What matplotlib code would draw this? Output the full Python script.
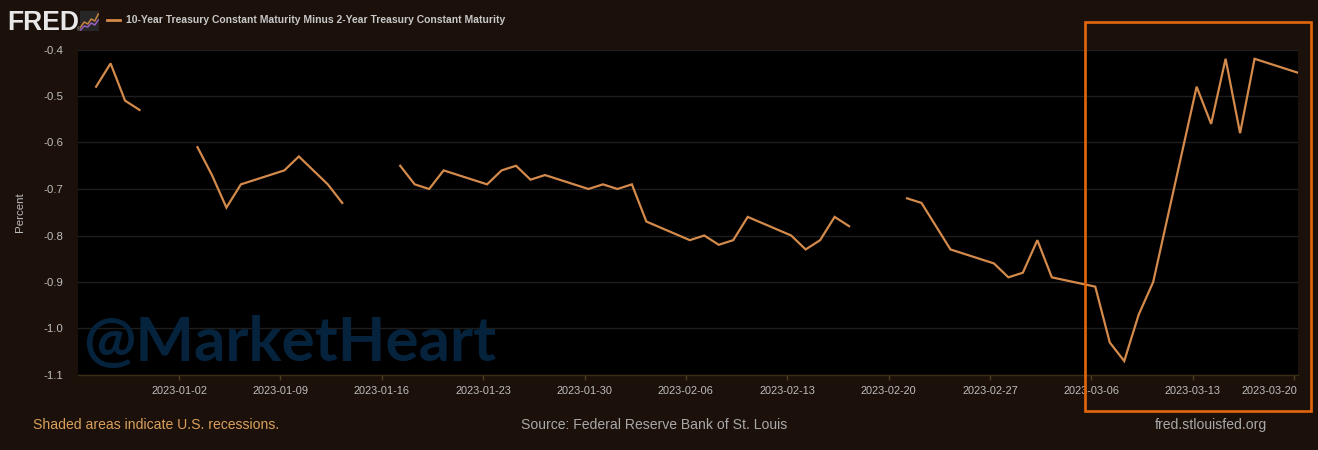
import matplotlib
matplotlib.use("Agg")
import matplotlib.pyplot as plt
import matplotlib.dates as mdates
import matplotlib.patches as patches
import matplotlib.transforms as mtransforms
import numpy as np
import pandas as pd

# ---------------- data ----------------
dates = [
    "2022-12-27", "2022-12-28", "2022-12-29", "2022-12-30", "2023-01-02",
    "2023-01-03", "2023-01-04", "2023-01-05", "2023-01-06",
    "2023-01-09", "2023-01-10", "2023-01-11", "2023-01-12", "2023-01-13",
    "2023-01-16", "2023-01-17", "2023-01-18", "2023-01-19", "2023-01-20",
    "2023-01-23", "2023-01-24", "2023-01-25", "2023-01-26", "2023-01-27",
    "2023-01-30", "2023-01-31", "2023-02-01", "2023-02-02", "2023-02-03",
    "2023-02-06", "2023-02-07", "2023-02-08", "2023-02-09", "2023-02-10",
    "2023-02-13", "2023-02-14", "2023-02-15", "2023-02-16", "2023-02-17",
    "2023-02-20", "2023-02-21", "2023-02-22", "2023-02-23", "2023-02-24",
    "2023-02-27", "2023-02-28", "2023-03-01", "2023-03-02", "2023-03-03",
    "2023-03-06", "2023-03-07", "2023-03-08", "2023-03-09", "2023-03-10",
    "2023-03-13", "2023-03-14", "2023-03-15", "2023-03-16", "2023-03-17",
    "2023-03-20",
]
spread = [
    -0.48, -0.43, -0.51, -0.53, None,
    -0.61, -0.67, -0.74, -0.69,
    -0.66, -0.63, -0.66, -0.69, -0.73,
    None, -0.65, -0.69, -0.70, -0.66,
    -0.69, -0.66, -0.65, -0.68, -0.67,
    -0.70, -0.69, -0.70, -0.69, -0.77,
    -0.81, -0.80, -0.82, -0.81, -0.76,
    -0.80, -0.83, -0.81, -0.76, -0.78,
    None, -0.72, -0.73, -0.78, -0.83,
    -0.86, -0.89, -0.88, -0.81, -0.89,
    -0.91, -1.03, -1.07, -0.97, -0.90,
    -0.48, -0.56, -0.42, -0.58, -0.42,
    -0.45,
]
tick_dates = ["2023-01-02", "2023-01-09", "2023-01-16", "2023-01-23", "2023-01-30",
              "2023-02-06", "2023-02-13", "2023-02-20", "2023-02-27", "2023-03-06",
              "2023-03-13", "2023-03-20"]
y_ticks = [-1.1, -1.0, -0.9, -0.8, -0.7, -0.6, -0.5, -0.4]
y_tick_labels = ["-1.1", "-1.0", "-0.9", "-0.8", "-0.7", "-0.6", "-0.5", "-0.4"]

series_name = "10-Year Treasury Constant Maturity Minus 2-Year Treasury Constant Maturity"

# small logo sparkline values (decorative)
logo_orange = [0.2, 0.45, 0.35, 0.6, 0.5, 0.85]
logo_purple = [0.05, 0.25, 0.2, 0.4, 0.3, 0.55]

# ---------------- style ----------------
W, H = 1318, 450
BG = "#1b100a"
LINE = "#d38a4b"
TXT = "#bdbdbd"
FONT = ["Liberation Sans", "DejaVu Sans"]
plt.rcParams["font.family"] = FONT

def px(v):
    return v * 0.72  # px -> pt at 100 dpi

fig = plt.figure(figsize=(W / 100, H / 100), dpi=100, facecolor=BG)

L, R, T, B = 78, 1298, 49.5, 375
ax = fig.add_axes([L / W, 1 - B / H, (R - L) / W, (B - T) / H])
ax.set_facecolor("#000000")

x = mdates.date2num(pd.to_datetime(dates))
y = np.array([np.nan if v is None else v for v in spread], dtype=float)

# gridlines
for v in y_ticks:
    ax.axhline(v, color="#1e1e1e", lw=1, zorder=1)

ax.plot(x, y, color=LINE, lw=1.6, zorder=3, solid_joinstyle="miter")

x0 = mdates.date2num(pd.Timestamp("2022-12-27")) - 1.25
x1 = mdates.date2num(pd.Timestamp("2023-03-20"))
ax.set_xlim(x0, x1)
ax.set_ylim(-1.1, -0.4)

tick_pos = mdates.date2num(pd.to_datetime(tick_dates)) - 0.27
ax.set_xticks(tick_pos)
ax.set_xticklabels(tick_dates)
ax.set_yticks(y_ticks)
ax.set_yticklabels(y_tick_labels)

ax.tick_params(axis="x", colors="#4d3e1e", length=px(5), width=1, pad=px(6),
               labelcolor=TXT, labelsize=px(11))
ax.tick_params(axis="y", length=0, pad=px(15), labelcolor=TXT, labelsize=px(11.5))
# last label kept inside the plot, as in the reference
last = ax.get_xticklabels()[-1]
last.set_horizontalalignment("right")
last.set_transform(last.get_transform() +
                   mtransforms.ScaledTranslation(3 / 100, 0, fig.dpi_scale_trans))

for s in ["top", "right", "left"]:
    ax.spines[s].set_visible(False)
ax.spines["bottom"].set_color("#3a2d17")
ax.spines["bottom"].set_linewidth(1)

fig.text(20 / W, 1 - 212 / H, "Percent", rotation=90, color=TXT,
         fontsize=px(11.5), ha="center", va="center")

# watermark
ax.text(83 / W, 1 - 361.5 / H, "@MarketHeart", transform=fig.transFigure,
        fontsize=px(62), fontweight="bold", family=["Lato", "DejaVu Sans"],
        color="#06233e", ha="left", va="baseline", zorder=2)

# ---------------- header ----------------
fig.text(7 / W, 1 - 30.5 / H, "FRED", fontsize=px(26.5), fontweight="bold",
         color="#e8e8e8", ha="left", va="baseline")
fig.text(76.5 / W, 1 - 31 / H, "®", fontsize=px(4.5), color="#cfcfcf",
         ha="left", va="baseline")
iax = fig.add_axes([80 / W, 1 - 31 / H, 19 / W, 20 / H])
iax.set_facecolor("#262626")
iax.plot(np.arange(len(logo_orange)), logo_orange, color="#c8823c", lw=1.1)
iax.plot(np.arange(len(logo_purple)), logo_purple, color="#9a5fc0", lw=1.1)
iax.set_xlim(-0.2, len(logo_orange) - 0.8)
iax.set_ylim(0, 1)
iax.set_xticks([]); iax.set_yticks([])
for s in iax.spines.values():
    s.set_visible(False)

fig.add_artist(plt.Line2D([107 / W, 120 / W], [1 - 20 / H, 1 - 20 / H],
                          color=LINE, lw=2, transform=fig.transFigure))
fig.text(126 / W, 1 - 20 / H, series_name, fontsize=px(10.4), fontweight="bold",
         color="#c8c8c8", ha="left", va="center")

# ---------------- footer ----------------
fig.text(33 / W, 1 - 425 / H, "Shaded areas indicate U.S. recessions.",
         fontsize=px(14), color="#d9a05c", ha="left", va="center")
fig.text(654 / W, 1 - 425 / H, "Source: Federal Reserve Bank of St. Louis",
         fontsize=px(14), color="#a8a8a8", ha="center", va="center")
fig.text(1267 / W, 1 - 425 / H, "fred.stlouisfed.org",
         fontsize=px(14), color="#a8a8a8", ha="right", va="center")

# highlight box
rx0, ry0, rx1, ry1 = 1084.5, 22.3, 1311.4, 411.0
rect = patches.Rectangle((rx0 / W, 1 - ry1 / H), (rx1 - rx0) / W, (ry1 - ry0) / H,
                         transform=fig.transFigure, fill=False,
                         edgecolor="#e0650c", lw=px(2.7), zorder=10)
fig.add_artist(rect)

fig.savefig("out.png", dpi=100, facecolor=BG)
